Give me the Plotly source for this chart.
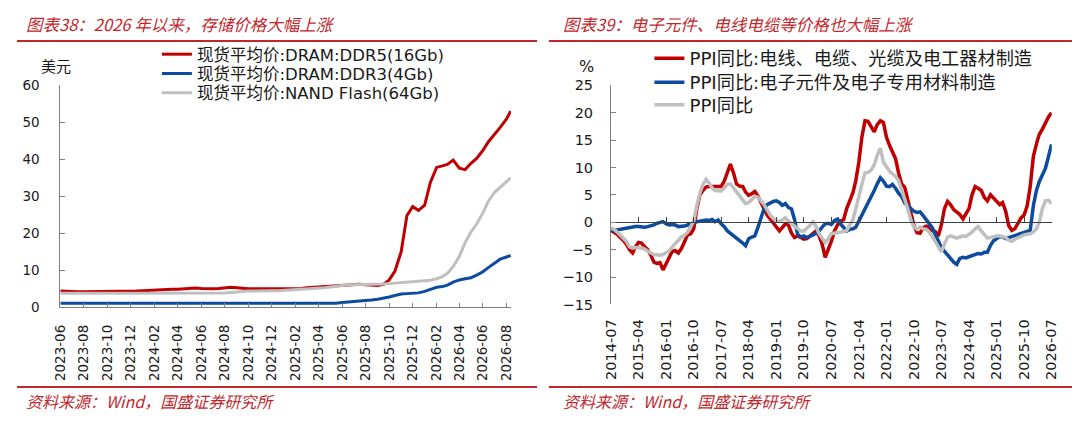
import plotly.graph_objects as go
import pandas as pd

# page size and the browser's default 8px body margin (figure is placed at 8,8)
W, H = 1080, 423
OFF = 8
FW, FH = W - OFF, H - OFF

# ---------------- Left chart data (US$, semi-monthly spot averages) ----------------
mem_dates = []
for ym in pd.date_range("2023-06-01", "2026-08-01", freq="MS"):
    mem_dates.append(ym.strftime("%Y-%m-01"))
    if ym < pd.Timestamp("2026-08-01"):
        mem_dates.append(ym.strftime("%Y-%m-16"))
mem_dates.append("2026-08-12")

ddr5 = [4.4, 4.3, 4.3, 4.2, 4.2, 4.2, 4.2, 4.2, 4.2, 4.3,
        4.3, 4.3, 4.4, 4.4, 4.5, 4.6, 4.7, 4.9, 5.0, 4.9,
        4.9, 5.0, 5.1, 5.2, 5.1, 5.0, 5.0, 5.1, 5.3, 5.4,
        5.3, 5.1, 5.0, 5.0, 5.0, 4.9, 4.9, 4.9, 4.9, 4.9,
        5.0, 5.1, 5.3, 5.4, 5.5, 5.6, 5.7, 5.8, 6.0, 6.1,
        6.1, 6.2, 6.1, 6.0, 5.9, 6.2, 7.4, 9.8, 15.0, 24.8,
        27.2, 26.2, 27.6, 33.8, 37.8, 38.2, 38.6, 39.8, 37.6, 37.2,
        38.9, 40.2, 42.4, 44.8, 46.6, 48.6, 50.8, 53.0]

ddr3 = [1.1, 1.1, 1.1, 1.1, 1.1, 1.1, 1.1, 1.1, 1.1, 1.1,
        1.1, 1.1, 1.1, 1.1, 1.1, 1.1, 1.1, 1.1, 1.1, 1.1,
        1.1, 1.1, 1.1, 1.1, 1.1, 1.0, 1.0, 1.0, 1.0, 1.0,
        1.0, 1.0, 1.0, 1.0, 1.0, 1.0, 0.9, 0.9, 0.9, 0.9,
        0.9, 0.9, 0.9, 0.9, 0.9, 0.9, 1.0, 1.1, 1.3, 1.4,
        1.6, 1.7, 1.9, 2.0, 2.2, 2.4, 2.8, 3.2, 3.6, 3.7,
        3.8, 3.9, 4.3, 4.9, 5.4, 5.6, 6.0, 6.8, 7.4, 7.7,
        8.0, 8.7, 9.6, 10.8, 12.0, 13.0, 13.6, 14.0]

nand = [3.8, 3.8, 3.8, 3.7, 3.7, 3.7, 3.8, 3.8, 3.8, 3.8,
        3.8, 3.8, 3.8, 3.8, 3.8, 3.8, 3.8, 3.8, 3.8, 3.8,
        3.8, 3.8, 3.8, 3.8, 3.8, 3.8, 3.9, 3.9, 3.9, 4.0,
        4.2, 4.3, 4.4, 4.4, 4.5, 4.5, 4.5, 4.5, 4.6, 4.6,
        4.7, 4.8, 4.9, 5.0, 5.1, 5.3, 5.5, 5.7, 5.9, 6.1,
        6.1, 6.1, 6.1, 6.1, 6.2, 6.3, 6.4, 6.5, 6.6, 6.7,
        6.8, 6.9, 7.0, 7.3, 7.7, 8.3, 9.2, 11.0, 13.8, 17.5,
        20.3, 22.5, 25.5, 28.8, 31.0, 32.5, 34.0, 35.0]

mem_names = ["现货平均价:DRAM:DDR5(16Gb)", "现货平均价:DRAM:DDR3(4Gb)", "现货平均价:NAND Flash(64Gb)"]
mem_tickvals = list(pd.date_range("2023-06-01", "2026-08-01", freq="2MS"))
mem_ticktext = [d.strftime("%Y-%m") for d in mem_tickvals]

# ---------------- Right chart data (PPI YoY %, monthly) ----------------
ppi_months = list(pd.date_range("2014-07-01", periods=145, freq="MS"))

ppi_cable = [-1.5, -1.8, -2.2, -2.8, -3.3, -4.0, -5.0, -5.6, -4.5, -3.7,
             -3.8, -4.5, -5.0, -6.0, -7.3, -7.5, -7.4, -8.7, -7.5, -6.2,
             -5.3, -5.2, -5.6, -4.8, -3.5, -2.3, -2.1, -1.2, 2.5, 5.0,
             5.8, 6.4, 6.5, 6.5, 6.4, 6.5, 6.5, 7.5, 9.0, 10.6,
             9.0, 7.0, 6.6, 6.5, 5.5, 4.9, 5.2, 5.6, 4.8, 3.5,
             2.2, 1.3, 0.6, -0.2, -0.9, -1.6, -1.0, -0.3, -0.5, -2.0,
             -2.8, -2.5, -2.8, -3.1, -3.0, -2.5, -2.0, -1.6, -2.5, -4.0,
             -6.4, -5.0, -3.5, -1.6, -0.5, 0.2, 0.5, 2.5, 3.8, 5.4,
             7.5, 11.0, 15.5, 18.5, 18.4, 17.5, 16.5, 17.8, 18.5, 18.2,
             15.5, 14.0, 13.0, 11.6, 9.0, 7.0, 6.4, 4.0, 1.5, -0.6,
             -1.9, -2.0, -1.0, -0.7, -0.9, -1.5, -1.7, -2.5, -0.5, 2.5,
             3.8, 3.2, 2.3, 1.8, 1.4, 0.6, 1.5, 2.5, 5.0, 6.5,
             6.2, 5.8, 4.5, 3.9, 5.0, 4.4, 3.8, 3.2, 3.6, 2.0,
             -0.6, -1.5, -1.2, -0.2, 0.8, 1.3, 3.0, 6.5, 12.0, 14.3,
             16.0, 17.0, 18.2, 19.2, 20.0]

ppi_elec = [-1.6, -1.5, -1.4, -1.2, -1.1, -1.0, -0.9, -0.9, -0.8, -0.8,
            -0.9, -0.9, -0.8, -0.7, -0.5, -0.2, -0.1, 0.1, -0.3, -0.5,
            -0.4, -0.5, -0.8, -0.8, -0.7, -0.5, -0.3, 0.0, 0.1, 0.2,
            0.3, 0.4, 0.3, 0.5, 0.1, 0.4, -0.3, -0.8, -1.6, -2.0,
            -2.5, -2.8, -3.4, -3.8, -4.3, -3.0, -2.7, -2.5, -1.0, 0.8,
            2.5, 3.2, 3.6, 3.8, 3.9, 3.6, 3.1, 3.4, 2.7, 2.4,
            0.5, -2.2, -2.7, -2.5, -2.8, -2.6, -2.3, -2.0, -1.6, -0.9,
            -0.3, -0.2, -0.4, 0.3, 0.6, -0.3, -1.0, -1.6, -1.3, -1.2,
            -0.9, 0.2, 1.2, 2.5, 3.6, 4.8, 5.8, 7.0, 8.1, 7.5,
            6.6, 6.5, 6.9, 6.2, 5.3, 4.7, 3.5, 3.0, 2.4, 2.0,
            1.8, 1.9, 1.2, 0.5, -0.2, -1.0, -2.2, -3.3, -4.6, -5.3,
            -6.0, -6.8, -7.3, -7.7, -6.6, -6.4, -6.5, -6.3, -6.1, -5.8,
            -5.7, -5.8, -5.5, -5.5, -4.2, -3.4, -2.9, -2.6, -2.7, -3.0,
            -2.8, -2.6, -2.4, -2.2, -2.0, -1.8, -1.6, -1.5, 3.0, 5.8,
            7.4, 8.5, 9.8, 12.0, 14.2]

ppi_all = [-1.0, -1.3, -1.8, -2.3, -2.8, -3.5, -4.5, -4.7, -4.6, -4.6,
           -4.7, -4.9, -5.3, -5.6, -5.9, -6.0, -6.0, -5.9, -5.6, -5.2,
           -4.5, -3.9, -3.2, -2.7, -2.4, -1.8, -0.8, 0.2, 3.0, 5.3,
           6.9, 7.8, 7.2, 6.3, 5.8, 5.7, 5.7, 6.3, 6.9, 7.0,
           6.3, 5.5, 4.9, 4.0, 3.4, 3.6, 4.2, 4.7, 4.6, 4.0,
           3.2, 2.3, 1.3, 0.7, 0.3, 0.1, 0.5, 0.8, 0.2, -0.3,
           -0.7, -1.3, -1.6, -1.6, -1.1, -0.6, 0.1, -0.8, -2.1, -3.0,
           -3.7, -3.0, -2.1, -2.0, -1.9, -1.9, -1.7, -1.5, -0.4, 0.5,
           2.4, 4.4, 6.9, 9.0, 9.1, 9.5, 10.5, 12.2, 13.5, 11.0,
           10.1, 9.3, 8.8, 8.4, 7.6, 6.1, 4.2, 2.4, 0.4, -0.8,
           -1.3, -0.9, -1.2, -1.3, -1.8, -2.6, -3.6, -4.7, -5.4, -4.0,
           -2.7, -2.5, -2.7, -2.9, -2.7, -2.5, -2.6, -2.2, -1.8, -1.2,
           -0.8, -1.6, -2.3, -2.9, -2.8, -2.6, -2.5, -2.5, -2.6, -2.8,
           -3.3, -3.5, -3.1, -2.8, -2.5, -2.3, -2.2, -2.1, -1.8, -1.2,
           0.0, 2.5, 3.9, 4.0, 3.4]

ppi_names = ["PPI同比:电线、电缆、光缆及电工器材制造", "PPI同比:电子元件及电子专用材料制造", "PPI同比"]
ppi_tickvals = list(pd.date_range("2014-07-01", "2026-07-01", freq="9MS"))
ppi_ticktext = [d.strftime("%Y-%m") for d in ppi_tickvals]

# ---------------- styling ----------------
RED, BLUE, GRAY = "#C00000", "#0C4B9E", "#BFBFBF"
ACCENT = "#C0282E"
AXIS = "#7F7F7F"
TXT = "#1A1A1A"
NUMFONT = "DejaVu Sans, Noto Sans CJK SC"
CJK = "Noto Sans CJK SC"


def px(x):
    return (x - OFF) / FW


def py(y):
    return 1 - (y - OFF) / FH


fig = go.Figure()

left_legends = ["legend", "legend2", "legend3"]
right_legends = ["legend4", "legend5", "legend6"]

for name, vals, col, lg in zip(mem_names, [ddr5, ddr3, nand], [RED, BLUE, GRAY], left_legends):
    fig.add_trace(go.Scatter(x=mem_dates, y=vals, name=name, mode="lines",
                             line=dict(color=col, width=3), xaxis="x", yaxis="y",
                             legend=lg))

for name, vals, col, lg in zip(ppi_names, [ppi_cable, ppi_elec, ppi_all], [RED, BLUE, GRAY], right_legends):
    fig.add_trace(go.Scatter(x=ppi_months, y=vals, name=name, mode="lines",
                             line=dict(color=col, width=3.5), xaxis="x2", yaxis="y2",
                             legend=lg))

# invisible carrier trace so the zero-line axis (with its tick marks) is drawn
fig.add_trace(go.Scatter(x=ppi_months, y=ppi_all, mode="lines", line=dict(width=0),
                         opacity=0, showlegend=False, hoverinfo="skip",
                         xaxis="x3", yaxis="y2"))

tick_font_l = dict(family=NUMFONT, size=13.5, color=TXT)
tick_font_r = dict(family=NUMFONT, size=14.5, color=TXT)

fig.update_layout(
    width=FW, height=FH,
    margin=dict(l=0, r=0, t=0, b=0),
    paper_bgcolor="white", plot_bgcolor="white",
    showlegend=True,
    xaxis=dict(domain=[px(52), px(509.5)], type="date",
               range=["2023-06-01", "2026-08-13"],
               tickmode="array", tickvals=mem_tickvals, ticktext=mem_ticktext,
               tickangle=-90, ticks="inside", ticklen=4, tickcolor=AXIS,
               showline=True, linecolor=AXIS, linewidth=1,
               showgrid=False, zeroline=False, tickfont=tick_font_l,
               ticklabelstandoff=11, anchor="y"),
    yaxis=dict(domain=[py(311), py(80)], range=[0, 60], dtick=10,
               ticks="inside", ticklen=5, tickcolor=AXIS,
               showline=True, linecolor=AXIS, linewidth=1,
               showgrid=False, zeroline=False, tickfont=tick_font_l,
               ticklabelstandoff=17, anchor="x"),
    xaxis2=dict(domain=[px(611), px(1058.5)], type="date",
                range=["2014-07-01", "2026-07-04"],
                tickmode="array", tickvals=ppi_tickvals, ticktext=ppi_ticktext,
                tickangle=-90, ticks="", showline=False,
                showgrid=False, zeroline=False, tickfont=tick_font_r,
                ticklabelstandoff=11, anchor="y2"),
    xaxis3=dict(domain=[px(611), px(1058.5)], type="date", matches="x2",
                overlaying="x2", anchor="free", position=py(222.5),
                tickmode="array", tickvals=ppi_tickvals,
                ticks="inside", ticklen=5, tickcolor="#404040",
                showline=True, linecolor="#404040", linewidth=1,
                showticklabels=False, showgrid=False, zeroline=False),
    yaxis2=dict(domain=[py(308), py(80)], range=[-15, 25], dtick=5,
                ticks="inside", ticklen=5, tickcolor=AXIS,
                showline=True, linecolor=AXIS, linewidth=1,
                showgrid=False, zeroline=False, tickfont=tick_font_r,
                ticklabelstandoff=14, anchor="x2"),
)

# one legend per entry so that row positions match the reference exactly
legend_cfg = {}
for lg, yrow in zip(left_legends, [48, 68, 88]):
    legend_cfg[lg] = dict(x=px(150), y=py(yrow), xanchor="left", yanchor="middle",
                          bgcolor="rgba(0,0,0,0)", itemwidth=30, borderwidth=0,
                          font=dict(family=NUMFONT, size=16.5, color=TXT))
for lg, yrow in zip(right_legends, [52, 77, 100.5]):
    legend_cfg[lg] = dict(x=px(650), y=py(yrow), xanchor="left", yanchor="middle",
                          bgcolor="rgba(0,0,0,0)", itemwidth=30, borderwidth=0,
                          font=dict(family=NUMFONT, size=18.2, color=TXT))
fig.update_layout(**legend_cfg)

shapes = []
for x0, x1 in [(8, 536), (548, 1080)]:
    shapes.append(dict(type="line", xref="paper", yref="paper", x0=px(x0), x1=px(x1),
                       y0=py(34), y1=py(34), line=dict(color=ACCENT, width=2)))
    shapes.append(dict(type="line", xref="paper", yref="paper", x0=px(x0), x1=px(x1),
                       y0=py(394), y1=py(394), line=dict(color=ACCENT, width=2)))
fig.update_layout(shapes=shapes)

title_font = dict(family=CJK, size=16.5, color=ACCENT, style="italic")
src_font = dict(family=CJK, size=16, color=ACCENT, style="italic")
annotations = [
    dict(text="图表38：2026 年以来，存储价格大幅上涨", x=px(15), y=py(16.5), font=title_font),
    dict(text="图表39：电子元件、电线电缆等价格也大幅上涨", x=px(560), y=py(16.5), font=title_font),
    dict(text="资料来源：Wind，国盛证券研究所", x=px(15), y=py(408), font=src_font),
    dict(text="资料来源：Wind，国盛证券研究所", x=px(560), y=py(408), font=src_font),
]
for a in annotations:
    a.update(xref="paper", yref="paper", xanchor="left", yanchor="middle", showarrow=False)
annotations.append(dict(text="美元", x=px(48), y=py(60), xref="paper", yref="paper",
                        xanchor="center", yanchor="middle", showarrow=False,
                        font=dict(family=CJK, size=15, color=TXT)))
annotations.append(dict(text="%", x=px(586), y=py(61), xref="paper", yref="paper",
                        xanchor="center", yanchor="middle", showarrow=False,
                        font=dict(family=NUMFONT, size=16, color=TXT)))
fig.update_layout(annotations=annotations)

fig.write_html("out.html")
